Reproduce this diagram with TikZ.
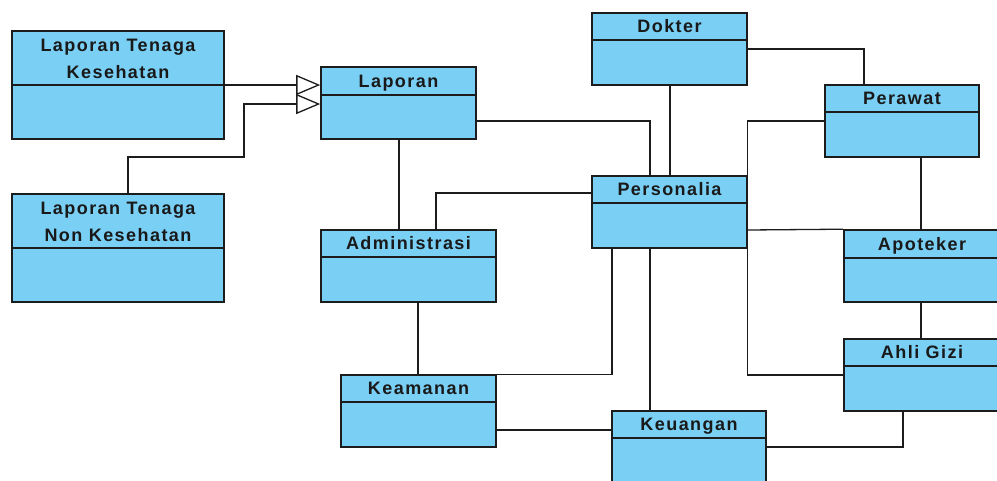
\documentclass[tikz,border=0pt]{standalone}
\usepackage{fontspec}
\newfontfamily\clsfont[LetterSpace=8]{Liberation Sans}
\usetikzlibrary{calc,fit,arrows.meta}

\definecolor{clsfill}{RGB}{122,207,245}
\definecolor{clsline}{RGB}{28,28,28}

\tikzset{
  clsbox/.style={draw=clsline, fill=clsfill, line width=1.6pt, inner sep=0pt},
  clsdiv/.style={draw=clsline, line width=1.6pt},
  clstitle/.style={font={\clsfont\bfseries\fontsize{18}{26.5}\selectfont},
                   align=center, text=black!90, inner sep=0pt},
  oneline/.style={text height=12.9pt, text depth=0pt},
  twolines/.style={yshift=-1.5pt},
  link/.style={draw=clsline, line width=1.3pt},
  gen/.style={link, -{Triangle[open, length=24pt, width=20pt, fill=white]}}
}

% class box: [title options] name, left, top, right, bottom, divider y, title
\newcommand\umlclass[8][oneline]{%
  \node[clsbox, fit={(#3,#4) (#5,#6)}] (#2) {};
  \draw[clsdiv] (#2.west |- 0,#7) -- (#2.east |- 0,#7);
  \node[clstitle, #1] (#2-title) at ($(#2.north)!0.5!(#2.north |- 0,#7)$) {#8};
}

\begin{document}
\begin{tikzpicture}[x=1pt, y=-1pt]
  \useasboundingbox (0,0) rectangle (997,480);
  \clip (0,0) rectangle (997,480);

  % classes
  \umlclass[twolines]{ltk}{12}{31}{224}{139}{85}{Laporan Tenaga\\Kesehatan}
  \umlclass[twolines]{ltnk}{12}{194}{224}{302}{248}{Laporan Tenaga\\Non Kesehatan}
  \umlclass{lap}{321}{67}{476}{139}{95}{Laporan}
  \umlclass{dok}{592}{13}{747}{85}{40}{Dokter}
  \umlclass{per}{825}{85}{979}{157}{112}{Perawat}
  \umlclass{pers}{592}{176}{747}{248}{203}{Personalia}
  \umlclass{adm}{321}{230}{496}{302}{257}{Administrasi}
  \umlclass{apo}{844}{230}{1000}{302}{258}{Apoteker}
  \umlclass{gizi}{844}{339}{1000}{411}{366}{Ahli Gizi}
  \umlclass{kea}{341}{375}{496}{447}{402}{Keamanan}
  \umlclass{keu}{612}{411}{766}{492}{438}{Keuangan}

  % generalisations into Laporan
  \draw[gen] (ltk.east |- 0,85) -- (lap.west |- 0,85);
  \draw[gen] (ltnk.north -| 128,0) |- (244,157) |- (lap.west |- 0,104);

  % associations
  \draw[link] (lap.east |- 0,121) -| (pers.north -| 650,0);
  \draw[link] (lap.south -| 399,0) -- (adm.north -| 399,0);
  \draw[link] (pers.west |- 0,193) -| (adm.north -| 436,0);
  \draw[link] (dok.south -| 670,0) -- (pers.north -| 670,0);
  \draw[link] (dok.east |- 0,49) -| (per.north -| 864,0);
  \draw[link] (per.west |- 0,121) -| (pers.north east);
  \draw[link] (per.south -| 921,0) -- (apo.north -| 921,0);
  \draw[link] (pers.east |- 0,230) -- (apo.north west);
  \draw[link] (apo.south -| 921,0) -- (gizi.north -| 921,0);
  \draw[link] (pers.south east) |- (gizi.west |- 0,375);
  \draw[link] (pers.south -| 612,0) |- (kea.north east);
  \draw[link] (pers.south -| 650,0) -- (keu.north -| 650,0);
  \draw[link] (adm.south -| 418,0) -- (kea.north -| 418,0);
  \draw[link] (kea.east |- 0,430) -- (keu.west |- 0,430);
  \draw[link] (gizi.south -| 903,0) |- (keu.east |- 0,447);
\end{tikzpicture}
\end{document}
